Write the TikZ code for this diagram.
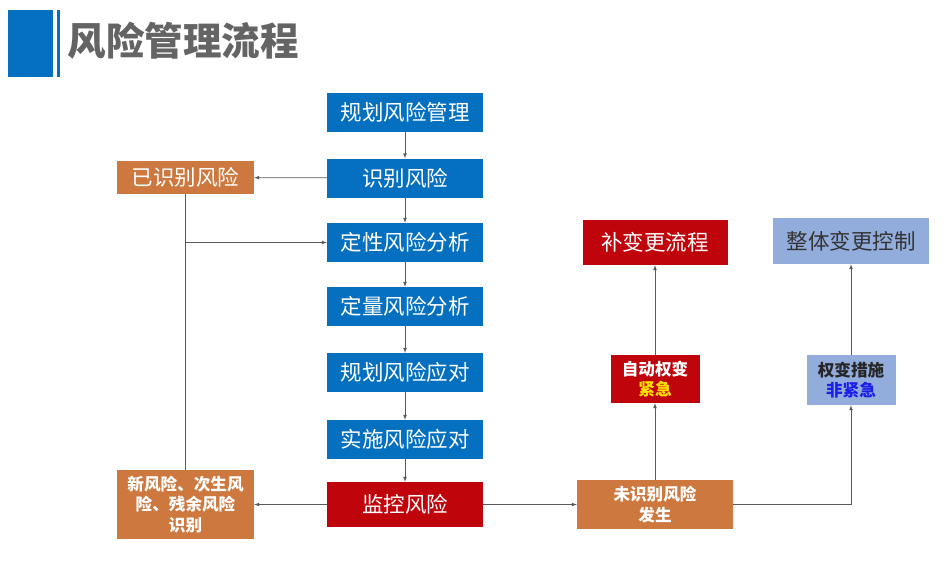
\documentclass[tikz,border=0pt]{standalone}
\usepackage{fontspec}
\setmainfont{Noto Sans CJK SC}
\usetikzlibrary{positioning,arrows}
\definecolor{riskblue}{RGB}{6,112,192}
\definecolor{riskorange}{RGB}{204,120,62}
\definecolor{riskred}{RGB}{192,4,12}
\definecolor{risklight}{RGB}{146,172,220}
\definecolor{titlegray}{RGB}{100,100,100}
\definecolor{urgentyellow}{RGB}{255,224,0}
\definecolor{calmblue}{RGB}{30,30,230}
\begin{document}
\begin{tikzpicture}[x=1pt,y=-1pt,
        box/.style={inner sep=0pt,align=center,text=white},
        big/.style={font=\fontsize{21.5}{24}\selectfont},
        small/.style={font=\bfseries\fontsize{16.6}{20.5}\selectfont},
        bluebox/.style={box,big,fill=riskblue,minimum width=156pt,minimum height=39pt},
        orangebox/.style={box,fill=riskorange,minimum width=137pt},
        arr/.style={-latex,black!65,line width=0.7pt}]
                \useasboundingbox (0,0) rectangle (950,560);
                %% title
                \fill[riskblue] (8,10) rectangle (53,77);
                \fill[riskblue] (57,10) rectangle (60,77);
                \node[anchor=west,text=titlegray,font=\bfseries\fontsize{38.5}{42}\selectfont] (title) at (64,41) {风险管理流程};
                %% main column
                \foreach \name/\txt/\y in {plan/规划风险管理/112,ident/识别风险/178,qual/定性风险分析/242.5,quant/定量风险分析/306.5,resp/规划风险应对/372.5,impl/实施风险应对/439.5} {
                    \node[bluebox] (\name) at (405,\y) {\txt};
                }
                \node[bluebox,fill=riskred,minimum height=45pt] (monitor) at (405,504.5) {监控风险};
                \foreach \a/\b in {plan/ident,ident/qual,qual/quant,quant/resp,resp/impl,impl/monitor} {
                    \draw[arr] (\a) -- (\b);
                }
                %% left side
                \node[orangebox,big,minimum height=33pt] (known) at (185.5,177.5) {已识别风险};
                \node[orangebox,small,minimum height=69pt] (newrisk) at (185.5,504.5) {新风险、次生风\\险、残余风险\\识别};
                \draw[arr] (ident) -- (known);
                \draw[arr] (monitor) -- (newrisk);
                \draw[black!65,line width=0.7pt] (known) -- (newrisk);
                \draw[arr] (known.south |- qual.west) -- (qual.west);
                %% right side
                \node[orangebox,small,minimum width=156pt,minimum height=49pt] (unknown) at (655,504.5) {未识别风险\\发生};
                \node[box,small,fill=riskred,minimum width=89pt,minimum height=48pt] (urgent) at (655,379) {自动权变\\\textcolor{urgentyellow}{紧急}};
                \node[box,big,fill=riskred,minimum width=145pt,minimum height=45pt] (extra) at (655,242.5) {补变更流程};
                \node[box,small,fill=risklight,text=black!85,minimum width=89pt,minimum height=50pt] (nonurg) at (851,380) {权变措施\\\textcolor{calmblue}{非紧急}};
                \node[box,big,fill=risklight,text=black!80,minimum width=156pt,minimum height=46pt] (whole) at (851,241) {整体变更控制};
                \draw[arr] (monitor) -- (unknown);
                \draw[arr] (unknown) -- (urgent);
                \draw[arr] (urgent) -- (extra);
                \draw[arr] (unknown.east) -| (nonurg.south);
                \draw[arr] (nonurg) -- (whole);
            \end{tikzpicture}
\end{document}
